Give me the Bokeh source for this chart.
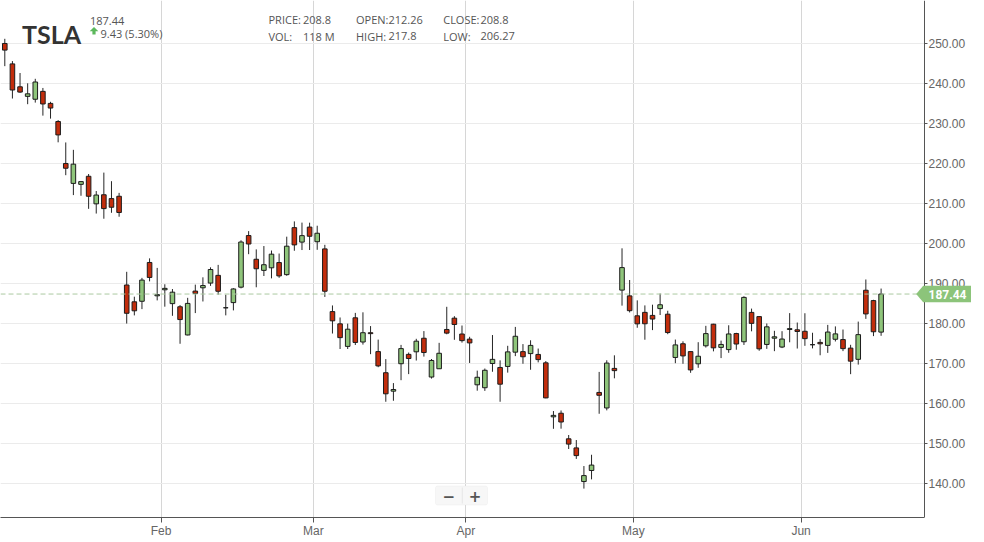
from bokeh.plotting import figure
from bokeh.models import (Range1d, FixedTicker, NumeralTickFormatter, Span, Label,
                          PolyAnnotation, BoxAnnotation, ColumnDataSource)
from bokeh.embed import file_html
from bokeh.resources import INLINE

# ---------------- data ----------------
symbol = "TSLA"
dates = [
    "2024-01-02", "2024-01-03", "2024-01-04", "2024-01-05", "2024-01-08", "2024-01-09", "2024-01-10",
    "2024-01-11", "2024-01-12", "2024-01-16", "2024-01-17", "2024-01-18", "2024-01-19", "2024-01-22",
    "2024-01-23", "2024-01-24", "2024-01-25", "2024-01-26", "2024-01-29", "2024-01-30", "2024-01-31",
    "2024-02-01", "2024-02-02", "2024-02-05", "2024-02-06", "2024-02-07", "2024-02-08", "2024-02-09",
    "2024-02-12", "2024-02-13", "2024-02-14", "2024-02-15", "2024-02-16", "2024-02-20", "2024-02-21",
    "2024-02-22", "2024-02-23", "2024-02-26", "2024-02-27", "2024-02-28", "2024-02-29",
    "2024-03-01", "2024-03-04", "2024-03-05", "2024-03-06", "2024-03-07", "2024-03-08", "2024-03-11",
    "2024-03-12", "2024-03-13", "2024-03-14", "2024-03-15", "2024-03-18", "2024-03-19", "2024-03-20",
    "2024-03-21", "2024-03-22", "2024-03-25", "2024-03-26", "2024-03-27", "2024-03-28",
    "2024-04-01", "2024-04-02", "2024-04-03", "2024-04-04", "2024-04-05", "2024-04-08", "2024-04-09",
    "2024-04-10", "2024-04-11", "2024-04-12", "2024-04-15", "2024-04-16", "2024-04-17", "2024-04-18",
    "2024-04-19", "2024-04-22", "2024-04-23", "2024-04-24", "2024-04-25", "2024-04-26", "2024-04-29",
    "2024-04-30",
    "2024-05-01", "2024-05-02", "2024-05-03", "2024-05-06", "2024-05-07", "2024-05-08", "2024-05-09",
    "2024-05-10", "2024-05-13", "2024-05-14", "2024-05-15", "2024-05-16", "2024-05-17", "2024-05-20",
    "2024-05-21", "2024-05-22", "2024-05-23", "2024-05-24", "2024-05-28", "2024-05-29", "2024-05-30",
    "2024-05-31",
    "2024-06-03", "2024-06-04", "2024-06-05", "2024-06-06", "2024-06-07", "2024-06-10", "2024-06-11",
    "2024-06-12", "2024-06-13", "2024-06-14", "2024-06-17",
]
opens = [
    250.08, 244.98, 239.25, 236.86, 236.14, 238.11, 235.10, 230.57, 220.08, 215.10, 214.86, 216.88,
    209.99, 212.26, 211.30, 211.88, 189.70, 185.50, 185.63, 195.33, 187.00,
    188.50, 185.04, 184.26, 177.21, 188.18, 189.00, 190.18, 192.11, 183.99, 185.30, 189.16, 202.06,
    196.13, 193.36, 194.00, 195.31, 192.29, 204.04, 200.42, 204.18,
    200.52, 198.73, 183.05, 179.99, 174.35, 181.50, 175.45, 177.77, 173.05, 167.77, 163.16, 170.02,
    172.36, 173.00, 176.39, 166.69, 168.76, 178.58, 181.41, 177.45,
    176.17, 164.75, 164.02, 170.07, 169.08, 169.34, 172.91, 173.04, 172.55, 172.34, 170.24, 156.74,
    157.64, 151.25, 148.97, 140.56, 143.33, 162.84, 158.96, 168.85, 188.42, 186.98,
    182.00, 182.86, 182.10, 183.80, 182.40, 171.59, 175.01, 173.05, 170.00, 174.50, 179.90, 174.10,
    173.55, 177.56, 175.51, 182.85, 181.80, 174.84, 176.40, 174.19, 178.58, 178.50,
    178.13, 174.78, 175.35, 174.60, 176.13, 176.06, 173.92, 171.12, 188.39, 185.80, 177.92,
]
highs = [
    251.25, 245.68, 242.70, 240.12, 241.25, 238.96, 235.50, 230.93, 225.34, 223.49, 215.67, 217.45,
    213.19, 217.80, 215.65, 212.73, 193.00, 186.78, 191.48, 196.36, 193.97,
    189.88, 188.69, 184.68, 186.49, 189.79, 191.62, 194.12, 194.73, 187.26, 188.89, 200.88, 203.17,
    198.60, 199.44, 198.32, 197.57, 201.78, 205.60, 205.30, 205.28,
    204.52, 199.75, 184.59, 181.58, 180.04, 182.73, 182.87, 179.43, 176.05, 171.17, 165.18, 174.72,
    172.82, 176.25, 178.18, 171.20, 175.24, 184.25, 181.91, 179.57,
    176.75, 168.29, 168.82, 177.19, 170.86, 174.50, 179.22, 174.93, 175.88, 173.81, 170.69, 158.19,
    158.33, 152.20, 150.94, 144.44, 147.26, 167.97, 170.88, 172.12, 198.87, 190.95,
    185.86, 184.60, 184.78, 187.56, 183.26, 176.06, 175.62, 173.06, 175.40, 179.49, 180.00, 175.79,
    179.63, 177.75, 186.88, 183.80, 181.90, 180.08, 178.25, 178.15, 182.67, 180.32,
    182.64, 177.76, 176.15, 179.73, 179.35, 178.57, 174.75, 180.55, 191.08, 186.00, 188.81,
]
lows = [
    244.41, 236.32, 237.73, 234.90, 235.30, 232.04, 231.29, 225.37, 217.15, 212.18, 212.01, 208.74,
    207.56, 206.27, 207.75, 206.77, 180.06, 182.10, 183.67, 190.61, 185.85,
    184.28, 182.00, 175.01, 177.11, 182.68, 185.58, 189.48, 187.28, 182.11, 183.35, 188.86, 197.40,
    189.13, 191.95, 191.36, 191.50, 192.00, 198.26, 198.44, 198.45,
    198.50, 186.72, 177.57, 173.70, 173.70, 174.70, 174.80, 172.41, 169.15, 160.51, 160.76, 165.90,
    167.42, 170.82, 171.80, 166.30, 168.73, 177.38, 176.00, 175.30,
    170.21, 163.28, 163.23, 168.01, 160.51, 167.79, 171.92, 170.01, 168.51, 170.36, 161.38, 153.75,
    153.78, 148.70, 146.22, 138.80, 141.11, 157.51, 158.36, 166.37, 184.54, 182.84,
    179.01, 176.02, 178.42, 182.20, 177.40, 170.15, 170.00, 167.75, 169.00, 174.07, 173.11, 171.43,
    172.75, 173.52, 174.71, 178.12, 173.26, 173.73, 173.16, 173.93, 175.38, 173.82,
    174.49, 173.85, 172.13, 172.73, 175.58, 173.17, 167.41, 169.80, 181.23, 176.92, 177.00,
]
closes = [
    248.42, 238.45, 237.93, 237.49, 240.45, 234.96, 233.94, 227.22, 218.89, 219.91, 215.55, 211.88,
    212.19, 208.80, 209.14, 207.83, 182.63, 183.25, 190.93, 191.59, 187.29,
    188.86, 187.91, 181.06, 185.10, 187.58, 189.56, 193.57, 188.13, 184.02, 188.71, 200.45, 199.95,
    193.76, 194.77, 197.41, 191.97, 199.40, 199.73, 202.04, 201.88,
    202.64, 188.14, 180.74, 176.54, 178.65, 175.34, 177.77, 177.54, 169.48, 162.50, 163.57, 173.80,
    171.32, 175.66, 172.82, 170.83, 172.63, 177.67, 179.83, 175.79,
    175.22, 166.63, 168.38, 171.11, 164.90, 172.98, 176.88, 171.76, 174.60, 171.05, 161.48, 157.11,
    155.45, 149.93, 147.05, 142.05, 144.68, 162.13, 170.18, 168.29, 194.05, 183.28,
    179.99, 180.01, 181.19, 184.76, 177.81, 174.72, 171.97, 168.47, 171.89, 177.55, 173.99, 174.84,
    177.46, 174.95, 186.60, 180.11, 173.74, 179.24, 176.75, 176.19, 178.79, 178.08,
    176.29, 174.77, 175.00, 177.94, 177.48, 173.79, 170.66, 177.29, 182.47, 178.01, 187.44,
]
month_names = ["Jan", "Feb", "Mar", "Apr", "May", "Jun", "Jul", "Aug", "Sep", "Oct", "Nov", "Dec"]
price_ticks = [140, 150, 160, 170, 180, 190, 200, 210, 220, 230, 240, 250]
hover_index = 13          # the bar shown in the header
hover_volume = "118 M"

# ---------------- layout helpers (page pixels -> data) ----------------
PX_PER_BAR = 7.62
PX_PER_USD = 4.0
FRAME_W, FRAME_H = 971, 517
AXIS_X = 924               # page x of the price axis line
X0 = -0.564
X1 = X0 + FRAME_W / PX_PER_BAR
Y1 = 260.825
Y0 = Y1 - FRAME_H / PX_PER_USD


def px(xp):
    return X0 + xp * (X1 - X0) / FRAME_W


def py(yp):
    return Y1 - yp * (Y1 - Y0) / FRAME_H


RED = "#c22d0c"
GREEN = "#8fc57b"

idx = list(range(len(dates)))
src = ColumnDataSource(dict(
    x=idx, open=opens, high=highs, low=lows, close=closes,
    top=[max(o, c) for o, c in zip(opens, closes)],
    bottom=[min(o, c) for o, c in zip(opens, closes)],
    color=[GREEN if c > o else RED for o, c in zip(opens, closes)],
))

# month boundary ticks
month_ticks, month_labels = [], []
for i in range(1, len(dates)):
    if dates[i][5:7] != dates[i - 1][5:7]:
        month_ticks.append(i - 0.5)
        month_labels.append(month_names[int(dates[i][5:7]) - 1])

p = figure(frame_width=FRAME_W, frame_height=FRAME_H,
           x_range=Range1d(X0, X1), y_range=Range1d(Y0, Y1),
           x_axis_location="below", y_axis_location="right",
           toolbar_location=None, output_backend="svg",
           min_border_left=0, min_border_top=0, min_border_right=0, min_border_bottom=0)
p.outline_line_color = None
p.background_fill_color = "white"
p.border_fill_color = "white"

# axes
xa = p.xaxis[0]
xa.ticker = FixedTicker(ticks=month_ticks)
xa.major_label_overrides = {t: l for t, l in zip(month_ticks, month_labels)}
xa.bounds = (X0, px(AXIS_X))
xa.minor_tick_line_color = None
xa.major_tick_in = 0
xa.major_tick_out = 5
xa.major_label_standoff = 1
xa.axis_line_color = "#555555"
xa.major_tick_line_color = "#555555"
xa.major_label_text_font = "Liberation Sans"
xa.major_label_text_font_size = "12px"
xa.major_label_text_color = "#666666"

ya = p.yaxis[0]
ya.fixed_location = px(AXIS_X)
ya.ticker = FixedTicker(ticks=price_ticks)
ya.formatter = NumeralTickFormatter(format="0.00")
ya.minor_tick_line_color = None
ya.major_tick_in = 0
ya.major_tick_out = 3
ya.major_label_standoff = 1
ya.axis_line_color = "#555555"
ya.major_tick_line_color = "#555555"
ya.major_label_text_font = "Liberation Sans"
ya.major_label_text_font_size = "12px"
ya.major_label_text_color = "#666666"

p.xgrid.ticker = FixedTicker(ticks=month_ticks)
p.xgrid.grid_line_color = "#d6d6d6"
p.ygrid.ticker = FixedTicker(ticks=price_ticks)
p.ygrid.grid_line_color = "#ebebeb"

# white strip behind the price labels (hides grid lines right of the axis)
p.add_layout(BoxAnnotation(left=px(AXIS_X + 0.5), right=X1 + 1, top=Y1 + 1, bottom=Y0 - 1,
                           fill_color="white", fill_alpha=1.0, line_color=None, level="glyph"))

# last price dashed line
last = closes[-1]
p.add_layout(Span(location=last, dimension="width", line_color="#abc9a2",
                  line_dash="5 3", line_width=1))

# candles
p.segment(x0="x", y0="low", x1="x", y1="high", source=src, line_color="#262626", line_width=1)
p.vbar(x="x", width=0.6, top="top", bottom="bottom", source=src,
       fill_color="color", line_color="#1c1c1c", line_width=1)

# price tag on the axis
h = 8.3 / PX_PER_USD
TAG = "#8cc47a"
p.add_layout(PolyAnnotation(
    xs=[px(915.7), px(922.7), px(970.5), px(970.5), px(922.7)],
    ys=[last, last + h, last + h, last - h, last - h],
    fill_color=TAG, fill_alpha=1.0, line_color=None))
p.add_layout(Label(x=px(947), y=last, text=f"{last:.2f}", text_align="center",
                   text_baseline="middle", text_color="white", text_font="Roboto",
                   text_font_style="bold", text_font_size="12px"))

# header
p.add_layout(Label(x=px(21.5), y=py(33.3), text=symbol, text_font="Lato",
                   text_font_style="bold", text_font_size="25px", text_color="#333333",
                   text_baseline="alphabetic"))
chg = closes[-1] - closes[-2]
pct = chg / closes[-2] * 100
small = dict(text_font="Open Sans", text_font_size="11px", text_color="#555555",
             text_baseline="alphabetic")
p.add_layout(Label(x=px(89.5), y=py(20), text=f"{last:.2f}", **small))
p.add_layout(Label(x=px(100), y=py(33.3), text=f"{chg:.2f} ({pct:.2f}%)", **small))
# up arrow
ax = [89.2, 93.5, 97.8, 95.1, 95.1, 91.9, 91.9]
ay = [30.8, 26.4, 30.8, 30.8, 34.0, 34.0, 30.8]
p.add_layout(PolyAnnotation(xs=[px(v) for v in ax], ys=[py(v) for v in ay],
                            fill_color="#5cb85c", fill_alpha=1.0, line_color=None))

hi = hover_index
cols = [
    (268, 302.5, "PRICE:", f"{closes[hi]:g}", "VOL:", hover_volume),
    (355.5, 388, "OPEN:", f"{opens[hi]:g}", "HIGH:", f"{highs[hi]:g}"),
    (442.7, 480, "CLOSE:", f"{closes[hi]:g}", "LOW:", f"{lows[hi]:g}"),
]
for lx, vx, l1, v1, l2, v2 in cols:
    p.add_layout(Label(x=px(lx), y=py(19.4), text=l1, **small))
    p.add_layout(Label(x=px(vx), y=py(19.4), text=v1, **small))
    p.add_layout(Label(x=px(lx), y=py(35.8), text=l2, **small))
    p.add_layout(Label(x=px(vx), y=py(35.8), text=v2, **small))

# zoom buttons
p.add_layout(BoxAnnotation(left=px(435), right=px(487), top=py(485.5), bottom=py(504.5),
                           fill_color="#f7f7f7", fill_alpha=1.0, line_color="#e4e4e4",
                           line_width=1, border_radius=2))
p.add_layout(BoxAnnotation(left=px(461.3), right=px(462.3), top=py(487), bottom=py(503),
                           fill_color="#e6e6e6", fill_alpha=1.0, line_color=None))
btn = dict(text_font="DejaVu Sans", text_font_style="bold", text_font_size="15px",
           text_color="#555555", text_align="center", text_baseline="middle")
p.add_layout(Label(x=px(448.3), y=py(495), text="\u2212", **btn))
p.add_layout(Label(x=px(474.6), y=py(495), text="+", **btn))

open("out.html", "w").write(file_html(p, INLINE))
